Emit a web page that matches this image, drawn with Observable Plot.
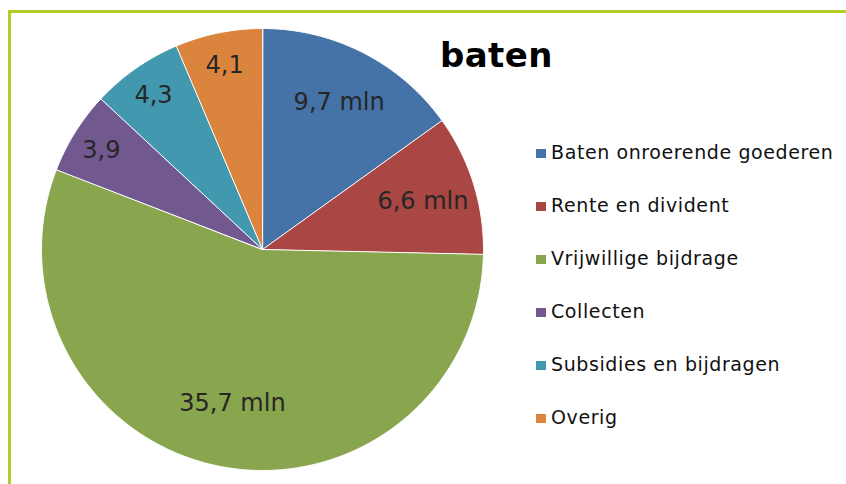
<!DOCTYPE html>
<html>
<head>
<meta charset="utf-8">
<script src="https://cdn.jsdelivr.net/npm/d3@7"></script>
<script src="https://cdn.jsdelivr.net/npm/@observablehq/plot@0.6"></script>
<style>
  body { margin: 0; background: #fff; }
  #wrap { position: relative; width: 846px; height: 484px; overflow: hidden; font-family: "DejaVu Sans", Verdana, sans-serif; background: #fff; }
  #wrap svg { position: absolute; left: 0; top: 0; }
  #frame { position: absolute; left: 8px; top: 10px; width: 900px; height: 600px; border-top: 3px solid #b3cc2a; border-left: 3px solid #b3cc2a; pointer-events: none; }
  #title { position: absolute; left: 440px; top: 38px; font-size: 34px; line-height: 34px; font-weight: bold; color: #000; letter-spacing: 0.4px; white-space: nowrap; }
  .lg-text { position: absolute; left: 551px; font-size: 19px; line-height: 19px; color: #111; letter-spacing: 0.6px; white-space: nowrap; }
  .lg-sw { position: absolute; left: 536px; width: 10px; height: 9px; }
</style>
</head>
<body>
<div id="wrap"></div>
<script>
// ---- data ----
const categories = ["Baten onroerende goederen", "Rente en divident", "Vrijwillige bijdrage", "Collecten", "Subsidies en bijdragen", "Overig"];
const values = [9.7, 6.6, 35.7, 3.9, 4.3, 4.1];
const valueLabels = ["9,7 mln", "6,6 mln", "35,7 mln", "3,9", "4,3", "4,1"];
const colors = ["#4572a7", "#aa4643", "#89a54e", "#71588f", "#4198af", "#db843d"];
const title = "baten";

// ---- pie geometry (angles from 12 o'clock, clockwise) ----
const total = d3.sum(values);
let acc = 0;
const slices = categories.map((name, i) => {
  const a0 = acc / total * 2 * Math.PI;
  acc += values[i];
  const a1 = acc / total * 2 * Math.PI;
  return { name, value: values[i], label: valueLabels[i], a0, a1, share: values[i] / total };
});

const pts = [];
for (const s of slices) {
  pts.push({ name: s.name, x: 0, y: 0 });
  const n = Math.max(2, Math.ceil((s.a1 - s.a0) / (Math.PI / 360)));
  for (let k = 0; k <= n; k++) {
    const a = s.a0 + (s.a1 - s.a0) * k / n;
    pts.push({ name: s.name, x: Math.sin(a), y: Math.cos(a) });
  }
}

const labelPts = slices.map(s => {
  const m = (s.a0 + s.a1) / 2;
  const f = s.share < 0.08 ? 0.86 : (s.share > 0.5 ? 0.7 : 0.76);
  return { text: s.label, x: f * Math.sin(m), y: f * Math.cos(m) };
});

const chart = Plot.plot({
  width: 846,
  height: 484,
  marginLeft: 41,
  marginRight: 363,
  marginTop: 28,
  marginBottom: 14,
  x: { domain: [-1, 1], axis: null },
  y: { domain: [-1, 1], axis: null },
  color: { domain: categories, range: colors },
  style: { fontFamily: "DejaVu Sans, Verdana, sans-serif", background: "transparent" },
  marks: [
    Plot.line(pts, { x: "x", y: "y", z: "name", fill: "name", stroke: "white", strokeWidth: 1, curve: "linear-closed" }),
    Plot.text(labelPts, { x: "x", y: "y", text: "text", fontSize: 24, fill: "#262626", textAnchor: "middle", dy: 2 })
  ]
});

const wrap = document.getElementById("wrap");
wrap.appendChild(chart);

const frame = document.createElement("div");
frame.id = "frame";
wrap.appendChild(frame);

const t = document.createElement("div");
t.id = "title";
t.textContent = title;
wrap.appendChild(t);

const colorScale = chart.scale("color");
categories.forEach((c, i) => {
  const sw = document.createElement("div");
  sw.className = "lg-sw";
  sw.style.top = (148.5 + i * 53) + "px";
  sw.style.background = colorScale.apply(c);
  wrap.appendChild(sw);
  const tx = document.createElement("div");
  tx.className = "lg-text";
  tx.style.top = (143.3 + i * 53) + "px";
  tx.textContent = c;
  wrap.appendChild(tx);
});
</script>
</body>
</html>
